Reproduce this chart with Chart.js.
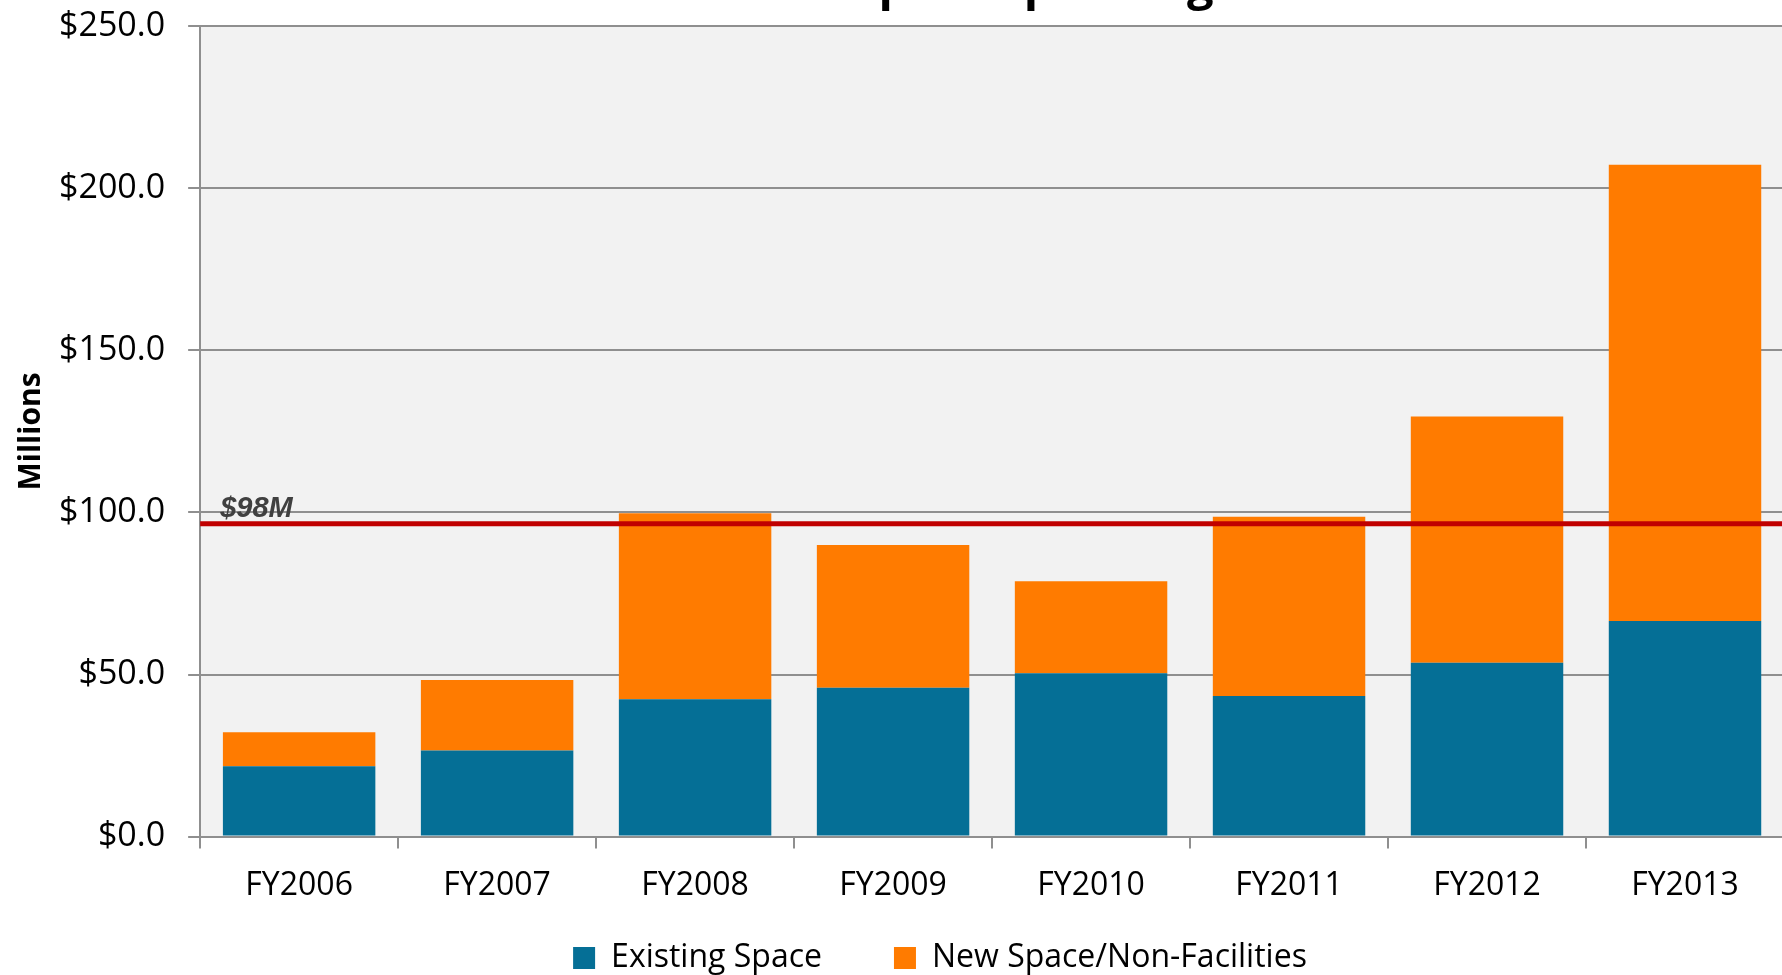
<!DOCTYPE html>
<html><head><meta charset="utf-8">
<script src="https://cdn.jsdelivr.net/npm/chart.js@4.4.1/dist/chart.umd.min.js"></script>
<style>
html,body{margin:0;padding:0;background:#fff;overflow:hidden;width:1782px;height:975px;}
#wrap{position:absolute;left:0;top:-43px;width:1784px;height:1080px;}
</style></head><body>
<div id="wrap"><canvas id="c" width="1784" height="1080"></canvas></div>
<script>
const categories = ['FY2006','FY2007','FY2008','FY2009','FY2010','FY2011','FY2012','FY2013'];
const existingSpace = [21.7, 26.6, 42.4, 45.9, 50.4, 43.4, 53.6, 66.5];
const newSpace = [10.5, 21.7, 57.4, 44.1, 28.4, 55.3, 76.0, 140.8];
const seriesNames = ['Existing Space', 'New Space/Non-Facilities'];
const yMin = 0, yMax = 250, yStep = 50;
const thresholdValue = 96.5;
const thresholdLabel = '$98M';
const titleText = 'Total Capital Spending';
const yTitle = 'Millions';

const GRID = '#8f8f8f';
const FONT = "'Open Sans', sans-serif";

const plotBg = {
  id: 'plotBg',
  beforeDraw(chart) {
    const {ctx, chartArea: a} = chart;
    ctx.save();
    ctx.fillStyle = '#f2f2f2';
    ctx.fillRect(a.left, a.top, a.right - a.left, a.bottom - a.top);
    ctx.restore();
  }
};
const shiftBlocks = {
  id: 'shiftBlocks',
  afterLayout(chart) {
    const t = chart.titleBlock;
    if (t) { t.left += 59; t.right += 59; }
    const l = chart.legend;
    if (l) { l.left += 48; l.right += 48; l.top -= 53; l.bottom -= 53; }
  }
};
const threshold = {
  id: 'threshold',
  afterDatasetsDraw(chart) {
    const {ctx, chartArea: a, scales: {y}} = chart;
    const py = y.getPixelForValue(thresholdValue);
    ctx.save();
    ctx.strokeStyle = '#c00000';
    ctx.lineWidth = 5;
    ctx.beginPath();
    ctx.moveTo(a.left, py);
    ctx.lineTo(a.right, py);
    ctx.stroke();
    ctx.fillStyle = '#404040';
    ctx.font = "italic bold 29px 'Liberation Sans', Arial, sans-serif";
    ctx.textBaseline = 'alphabetic';
    ctx.textAlign = 'left';
    ctx.fillText(thresholdLabel, a.left + 20, py - 7);
    ctx.restore();
  }
};

new Chart(document.getElementById('c'), {
  type: 'bar',
  data: {
    labels: categories,
    datasets: [
      {label: seriesNames[0], data: existingSpace, backgroundColor: '#056f96', borderWidth: 0},
      {label: seriesNames[1], data: newSpace, backgroundColor: '#ff7b00', borderWidth: 0}
    ]
  },
  options: {
    responsive: false,
    animation: false,
    devicePixelRatio: 1,
    barPercentage: 0.77,
    categoryPercentage: 1.0,
    layout: {padding: {left: 0, right: 0, top: 0, bottom: 0}},
    plugins: {
      tooltip: {enabled: false},
      title: {display: true, text: titleText, color: '#000',
        font: {family: FONT, size: 47, weight: 'bold'}, padding: {top: 1, bottom: 11.9}},
      legend: {position: 'bottom',
        labels: {boxWidth: 22, boxHeight: 22, padding: 72, color: '#000',
          font: {family: FONT, size: 32}}}
    },
    scales: {
      x: {
        stacked: true,
        grid: {drawOnChartArea: false, drawTicks: true, tickLength: 12, color: GRID, lineWidth: 2, offset: true},
        border: {display: true, color: GRID, width: 2},
        ticks: {color: '#000', font: {family: FONT, size: 32}, padding: 18}
      },
      y: {
        stacked: true,
        min: yMin, max: yMax,
        grid: {color: GRID, lineWidth: 2, tickLength: 12},
        border: {display: true, color: GRID, width: 2},
        ticks: {stepSize: yStep, color: '#000', padding: 23,
          font: {family: FONT, size: 34},
          callback: v => '$' + Number(v).toFixed(1)},
        title: {display: true, text: yTitle, color: '#000',
          font: {family: FONT, size: 30, weight: 'bold'}, padding: {top: 13, bottom: -13}}
      }
    }
  },
  plugins: [plotBg, shiftBlocks, threshold]
});
</script>
</body></html>
